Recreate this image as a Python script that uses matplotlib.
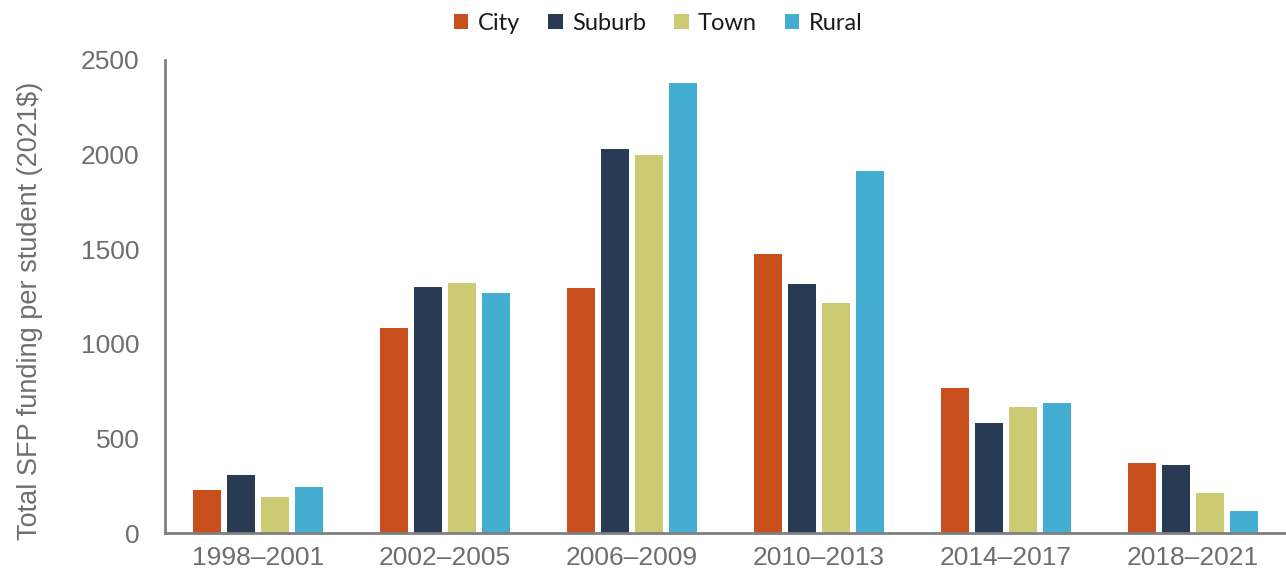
import matplotlib.pyplot as plt
import numpy as np

# valores
periodos = ['1998–2001', '2002–2005', '2006–2009', '2010–2013', '2014–2017', '2018–2021']
city = [229, 1085, 1296, 1473, 767, 373]
suburb = [309, 1298, 2029, 1316, 580, 362]
town = [189, 1324, 2000, 1218, 665, 213]
rural = [244, 1271, 2376, 1911, 689, 115]

series = [('City', city, '#C94F1C'),
          ('Suburb', suburb, '#283A54'),
          ('Town', town, '#CDCA74'),
          ('Rural', rural, '#44AED2')]

cinza = '#6D6E71'
plt.rcParams['font.family'] = ['Liberation Sans', 'DejaVu Sans']

fig = plt.figure(figsize=(12.86, 5.82), dpi=100)
ax = fig.add_axes([0.128, 0.084, 0.872, 0.813])

x = np.arange(len(periodos))
passo = 0.182
largura = 0.15
for i, (nome, valores, cor) in enumerate(series):
    ax.bar(x + (i - 1.5) * passo, valores, width=largura, color=cor, label=nome)

ax.set_xlim(-0.5, 5.5)
ax.set_ylim(0, 2500)
ax.set_yticks(range(0, 2501, 500))
ax.set_xticks(x)
ax.set_xticklabels(periodos)
ax.tick_params(axis='both', length=0, labelsize=19, colors=cinza)
ax.tick_params(axis='x', pad=9)
ax.tick_params(axis='y', pad=18)

for lado in ['top', 'right']:
    ax.spines[lado].set_visible(False)
for lado in ['left', 'bottom']:
    ax.spines[lado].set_color('#7F7F7F')
    ax.spines[lado].set_linewidth(2)

ax.set_ylabel('Total SFP funding per student (2021$)', fontsize=19.5, color=cinza, labelpad=14)
ax.yaxis.set_label_coords(-0.108, 0.47)

handles, labels = ax.get_legend_handles_labels()
fig.legend(handles, labels, loc='upper center', bbox_to_anchor=(0.512, 1.015), ncol=4,
           frameon=False, prop={'family': 'Lato', 'size': 17}, labelcolor='#1A1A1A',
           handlelength=0.6, handleheight=0.6, handletextpad=0.4, columnspacing=1.2)

fig.savefig('out.png', dpi=100)
